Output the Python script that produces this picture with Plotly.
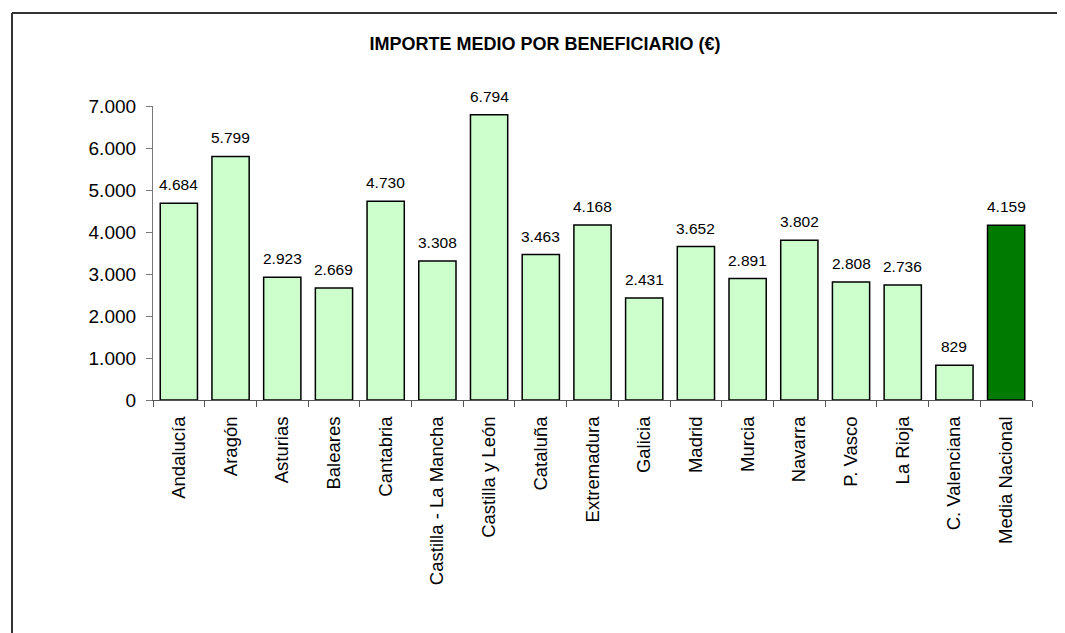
import plotly.graph_objects as go

categories = ["Andalucía", "Aragón", "Asturias", "Baleares", "Cantabria",
              "Castilla - La Mancha", "Castilla y León", "Cataluña", "Extremadura",
              "Galicia", "Madrid", "Murcia", "Navarra", "P. Vasco", "La Rioja",
              "C. Valenciana", "Media Nacional"]
values = [4684, 5799, 2923, 2669, 4730, 3308, 6794, 3463, 4168,
          2431, 3652, 2891, 3802, 2808, 2736, 829, 4159]
ytick_vals = [0, 1000, 2000, 3000, 4000, 5000, 6000, 7000]
title_text = "IMPORTE MEDIO POR BENEFICIARIO (€)"

colors = ["#CCFFCC"] * (len(categories) - 1) + ["#007A00"]

def fmt(v):
    return f"{v:,d}".replace(",", ".")

fig = go.Figure(go.Bar(
    x=categories, y=values,
    marker=dict(color=colors, line=dict(color="black", width=1.5)),
))

for c, v in zip(categories, values):
    fig.add_annotation(x=c, y=v, xref="x", yref="y", text=fmt(v),
                       showarrow=False, yanchor="bottom", yshift=8,
                       font=dict(family="Liberation Sans, Arial", size=15.5, color="black"))

# page body has an 8px margin: figure occupies screen from (8, 8)
OFF = 8
W, H = 1065 - OFF, 633 - OFF
L, T = 153 - OFF, 106 - OFF
R = W - (1032 - OFF)
B = H - (400 - OFF)
pw, ph = W - L - R, H - T - B

def px_x(sx):
    return (sx - OFF - L) / pw

def px_y(sy):
    return (H - B - (sy - OFF)) / ph

fig.update_layout(
    width=W, height=H,
    margin=dict(l=L, r=R, t=T, b=B),
    paper_bgcolor="white", plot_bgcolor="white",
    separators=",.",
    bargap=0.28,
    showlegend=False,
    font=dict(family="Liberation Sans, Arial", color="black"),
    title=dict(text="<b>" + title_text + "</b>", x=px_x(545), xref="paper",
               xanchor="center", y=(H - (44 - OFF)) / H, yanchor="middle",
               font=dict(size=18, family="Liberation Sans, Arial", color="black")),
    xaxis=dict(showline=True, linecolor="#555", linewidth=1.2,
               ticks="outside", tickson="boundaries", ticklen=6, tickcolor="#555",
               tickangle=-90, tickfont=dict(size=18.5), ticklabelstandoff=8,
               showgrid=False),
    yaxis=dict(range=[0, 7000], tickvals=ytick_vals, tickformat=",d",
               showline=True, linecolor="#777", linewidth=1.2,
               ticks="outside", ticklen=6, tickcolor="#777",
               tickfont=dict(size=19), ticklabelstandoff=6,
               showgrid=False, zeroline=False),
    shapes=[
        dict(type="line", xref="paper", yref="paper",
             x0=px_x(12), x1=px_x(12), y0=px_y(13), y1=px_y(650),
             line=dict(color="#333", width=2)),
        dict(type="line", xref="paper", yref="paper",
             x0=px_x(12), x1=px_x(1080), y0=px_y(13), y1=px_y(13),
             line=dict(color="#333", width=2)),
    ],
)

fig.write_html("out.html")
